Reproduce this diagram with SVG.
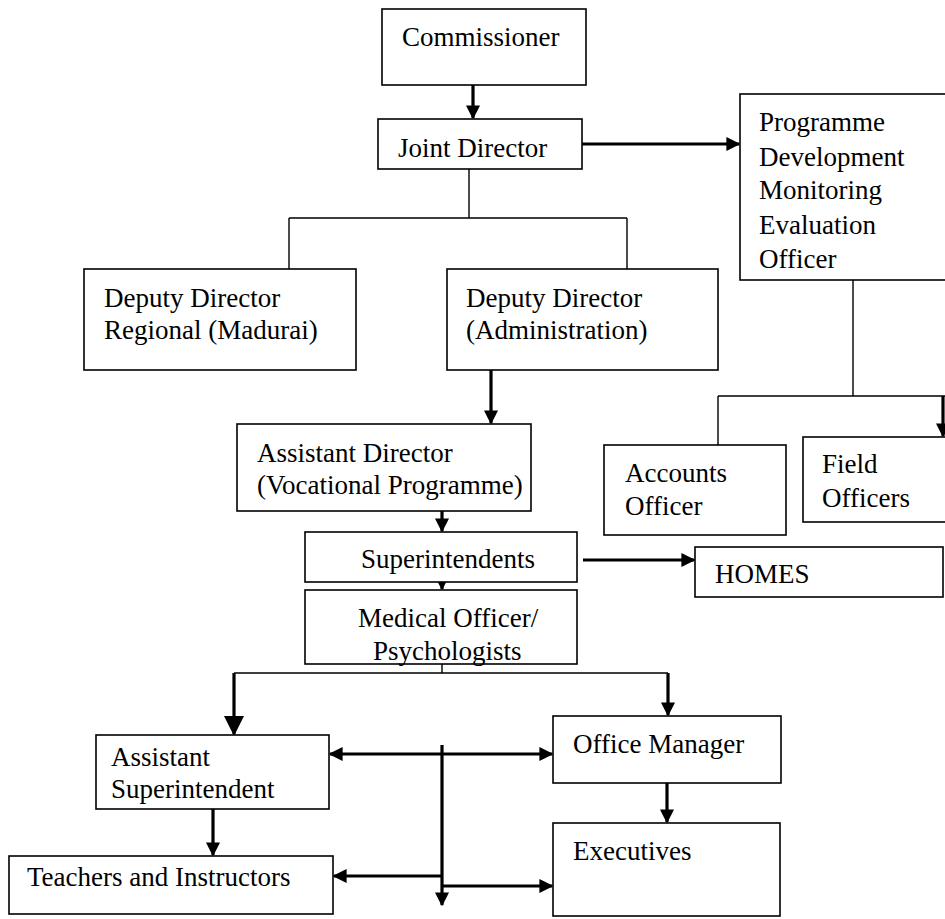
<svg xmlns="http://www.w3.org/2000/svg" width="945" height="919" viewBox="0 0 945 919">
<style>
.box{fill:#fff;stroke:#000;stroke-width:1.6}
text{font-family:"Liberation Serif","Times New Roman",serif;font-size:27px;fill:#000}
.thin{fill:none;stroke:#000;stroke-width:1.4}
.thick{fill:none;stroke:#000;stroke-width:3.2}
</style>
<defs>
<marker id="ah" viewBox="0 0 10 10" refX="9" refY="5" markerWidth="14" markerHeight="14" markerUnits="userSpaceOnUse" orient="auto-start-reverse"><path d="M0,0 L10,5 L0,10 z" fill="#000"/></marker>
<marker id="ahL" viewBox="0 0 10 10" refX="9" refY="5" markerWidth="20" markerHeight="22" markerUnits="userSpaceOnUse" orient="auto"><path d="M0,0 L10,5 L0,10 z" fill="#000"/></marker>
</defs>
<rect width="945" height="919" fill="#fff"/>
<g id="connectors">
<path class="thick" d="M473,85 V118" marker-end="url(#ah)"/>
<path class="thick" d="M582,144 H739" marker-end="url(#ah)"/>
<path class="thin" d="M469,169 V218 M289,218 H627 M289,218 V269 M627,218 V269"/>
<path class="thin" d="M853,270 V396 M718,396 H945 M718,396 V445"/>
<path class="thick" d="M943,396 V436" marker-end="url(#ah)"/>
<path class="thick" d="M491,370 V423" marker-end="url(#ah)"/>
<path class="thick" d="M442,506 V531" marker-end="url(#ah)"/>
<path class="thick" d="M442,574 V589" marker-end="url(#ah)"/>
<path class="thick" d="M583,560 H694" marker-end="url(#ah)"/>
<path class="thin" d="M442,664 V673 M234,673 H668"/>
<path class="thick" d="M234,673 V734" marker-end="url(#ahL)"/>
<path class="thick" d="M668,673 V715" marker-end="url(#ah)"/>
<path class="thick" d="M213,809 V855" marker-end="url(#ah)"/>
<path class="thick" d="M667,783 V822" marker-end="url(#ah)"/>
<path class="thick" d="M330,754 H552" marker-start="url(#ah)" marker-end="url(#ah)"/>
<path class="thick" d="M442,745 V905" marker-end="url(#ah)"/>
<path class="thick" d="M442,876 H334" marker-end="url(#ah)"/>
<path class="thick" d="M442,886 H552" marker-end="url(#ah)"/>
</g>
<g id="commissioner"><rect class="box" x="382" y="9" width="204" height="76"/><text x="402" y="46">Commissioner</text></g>
<g id="joint-director"><rect class="box" x="378" y="119" width="204" height="50"/><text x="398" y="157">Joint Director</text></g>
<g id="programme-officer"><rect class="box" x="740" y="94" width="215" height="186"/>
<text x="759" y="131">Programme</text><text x="759" y="166">Development</text><text x="759" y="199">Monitoring</text><text x="759" y="234">Evaluation</text><text x="759" y="268">Officer</text></g>
<g id="dd-regional"><rect class="box" x="84" y="269" width="272" height="101"/><text x="104" y="307">Deputy Director</text><text x="104" y="339">Regional (Madurai)</text></g>
<g id="dd-admin"><rect class="box" x="447" y="269" width="271" height="101"/><text x="466" y="307">Deputy Director</text><text x="466" y="339">(Administration)</text></g>
<g id="accounts-officer"><rect class="box" x="604" y="445" width="182" height="90"/><text x="625" y="482">Accounts</text><text x="625" y="515">Officer</text></g>
<g id="field-officers"><rect class="box" x="803" y="437" width="152" height="85"/><text x="822" y="473">Field</text><text x="822" y="507">Officers</text></g>
<g id="asst-director"><rect class="box" x="237" y="424" width="294" height="87"/><text x="257" y="462">Assistant Director</text><text x="257" y="494">(Vocational Programme)</text></g>
<g id="superintendents"><rect class="box" x="305" y="532" width="272" height="50"/><text x="361" y="568">Superintendents</text></g>
<g id="homes"><rect class="box" x="695" y="547" width="248" height="50"/><text x="715" y="583">HOMES</text></g>
<g id="medical-officer"><rect class="box" x="305" y="590" width="272" height="74"/><text x="358" y="627">Medical Officer/</text><text x="373" y="660">Psychologists</text></g>
<g id="asst-superintendent"><rect class="box" x="96" y="735" width="233" height="74"/><text x="111" y="766">Assistant</text><text x="111" y="798">Superintendent</text></g>
<g id="office-manager"><rect class="box" x="553" y="716" width="228" height="67"/><text x="573" y="753">Office Manager</text></g>
<g id="teachers"><rect class="box" x="9" y="856" width="324" height="58"/><text x="27" y="886">Teachers and Instructors</text></g>
<g id="executives"><rect class="box" x="553" y="823" width="227" height="93"/><text x="573" y="860">Executives</text></g>
</svg>
